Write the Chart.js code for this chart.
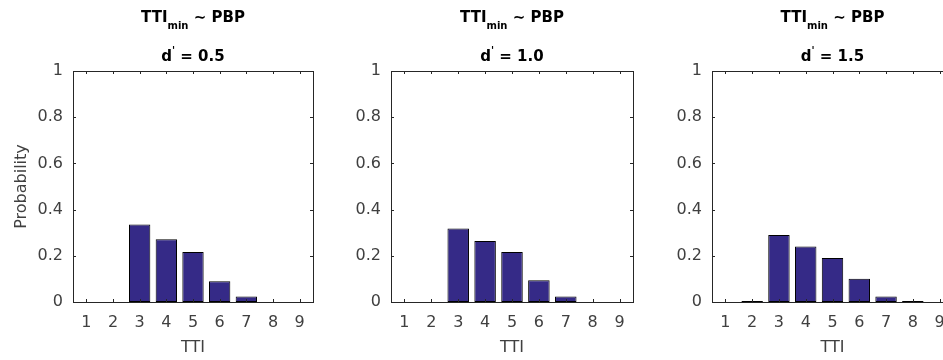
<!DOCTYPE html>
<html>
<head>
<meta charset="utf-8">
<script src="https://cdn.jsdelivr.net/npm/chart.js@4"></script>
<style>
  html, body { margin: 0; padding: 0; background: #fff; overflow: hidden; }
  body { width: 943px; height: 360px; position: relative; }
  .panel { position: absolute; top: 0; width: 320px; height: 360px; }
  .panel canvas { display: block; }
</style>
</head>
<body>
<div class="panel" style="left:0px"><canvas id="p1" width="320" height="360"></canvas></div>
<div class="panel" style="left:320px"><canvas id="p2" width="320" height="360"></canvas></div>
<div class="panel" style="left:640px"><canvas id="p3" width="320" height="360"></canvas></div>
<script>
const ttiCategories = ['1', '2', '3', '4', '5', '6', '7', '8', '9'];
const probD05 = [0, 0, 0.335, 0.272, 0.216, 0.090, 0.024, 0, 0];
const probD10 = [0, 0, 0.318, 0.264, 0.216, 0.094, 0.024, 0, 0];
const probD15 = [0, 0.004, 0.290, 0.240, 0.190, 0.101, 0.024, 0.004, 0];
const dPrimeLabels = ['0.5', '1.0', '1.5'];
const yTickValues = [0, 0.2, 0.4, 0.6, 0.8, 1];

const AXIS_COLOR = '#262626';
const TEXT_COLOR = '#404040';
const FONT = '"DejaVu Sans", sans-serif';

// draws the MATLAB-like box with inward tick marks
const boxPlugin = {
  id: 'matlabBox',
  afterDatasetsDraw(chart) {
    const { ctx, chartArea: a, scales } = chart;
    const len = 3;
    ctx.save();
    ctx.strokeStyle = AXIS_COLOR;
    ctx.lineWidth = 1;
    ctx.beginPath();
    scales.x.ticks.forEach((t, i) => {
      const x = Math.round(scales.x.getPixelForTick(i)) + 0.5;
      ctx.moveTo(x, a.bottom); ctx.lineTo(x, a.bottom - len);
      ctx.moveTo(x, a.top); ctx.lineTo(x, a.top + len);
    });
    yTickValues.forEach((v) => {
      const y = Math.round(scales.y.getPixelForValue(v)) + 0.5;
      ctx.moveTo(a.left, y); ctx.lineTo(a.left + len, y);
      ctx.moveTo(a.right, y); ctx.lineTo(a.right - len, y);
    });
    ctx.stroke();
    ctx.strokeRect(Math.round(a.left) + 0.5, Math.round(a.top) + 0.5,
      Math.round(a.right - a.left), Math.round(a.bottom - a.top));
    ctx.restore();
  }
};

// two-line title with subscript "min" and superscript prime
const titlePlugin = {
  id: 'panelTitle',
  afterDraw(chart, args, opts) {
    const { ctx, chartArea: a } = chart;
    const cx = (a.left + a.right) / 2;
    const big = 'bold 15px ' + FONT;
    const small = 'bold 10px ' + FONT;
    function drawRun(parts, baseY) {
      let w = 0;
      parts.forEach((p) => { ctx.font = p[1]; w += ctx.measureText(p[0]).width; });
      let x = cx - w / 2;
      parts.forEach((p) => {
        ctx.font = p[1];
        ctx.fillText(p[0], x, baseY + p[2]);
        x += ctx.measureText(p[0]).width;
      });
    }
    ctx.save();
    ctx.fillStyle = '#000';
    ctx.textAlign = 'left';
    ctx.textBaseline = 'alphabetic';
    drawRun([['TTI', big, 0], ['min', small, 7], [' \u223C PBP', big, 0]], 22);
    drawRun([['d', big, 0], ["'", small, -7], [' = ' + opts.dPrime, big, 0]], 61);
    ctx.restore();
  }
};

function makePanel(id, values, dPrime, chartLeft, showYTitle) {
  new Chart(document.getElementById(id), {
    type: 'bar',
    data: {
      labels: ttiCategories,
      datasets: [{
        data: values,
        backgroundColor: '#352a87',
        borderColor: '#000000',
        borderWidth: 1,
        borderSkipped: false,
        barPercentage: 0.8,
        categoryPercentage: 1.0
      }]
    },
    options: {
      responsive: false,
      animation: false,
      events: [],
      layout: { padding: { top: 71, right: 7, left: 0, bottom: 0 } },
      plugins: {
        legend: { display: false },
        tooltip: { enabled: false },
        panelTitle: { dPrime: dPrime }
      },
      scales: {
        x: {
          offset: true,
          grid: { display: false, drawTicks: false },
          border: { display: false },
          ticks: { color: TEXT_COLOR, font: { family: FONT, size: 16 }, padding: 11, maxRotation: 0 },
          title: { display: true, text: 'TTI', color: TEXT_COLOR, font: { family: FONT, size: 16 }, padding: { top: 0, bottom: 3 } },
          afterFit: (scale) => { scale.height = 58; }
        },
        y: {
          min: 0, max: 1,
          afterBuildTicks: (scale) => { scale.ticks = yTickValues.map((v) => ({ value: v })); },
          grid: { display: false, drawTicks: false },
          border: { display: false },
          ticks: {
            color: TEXT_COLOR, font: { family: FONT, size: 16 }, padding: 10,
            callback: (v) => String(+Number(v).toFixed(1))
          },
          title: { display: showYTitle, text: 'Probability', color: TEXT_COLOR, font: { family: FONT, size: 16 }, padding: { top: 12, bottom: 0 } },
          afterFit: (scale) => { scale.width = chartLeft; }
        }
      }
    },
    plugins: [boxPlugin, titlePlugin]
  });
}

makePanel('p1', probD05, dPrimeLabels[0], 73, true);
makePanel('p2', probD10, dPrimeLabels[1], 71, false);
// the third axes runs past the right edge of the figure, as in the original
makePanel('p3', probD15, dPrimeLabels[2], 72, false);
</script>
</body>
</html>
